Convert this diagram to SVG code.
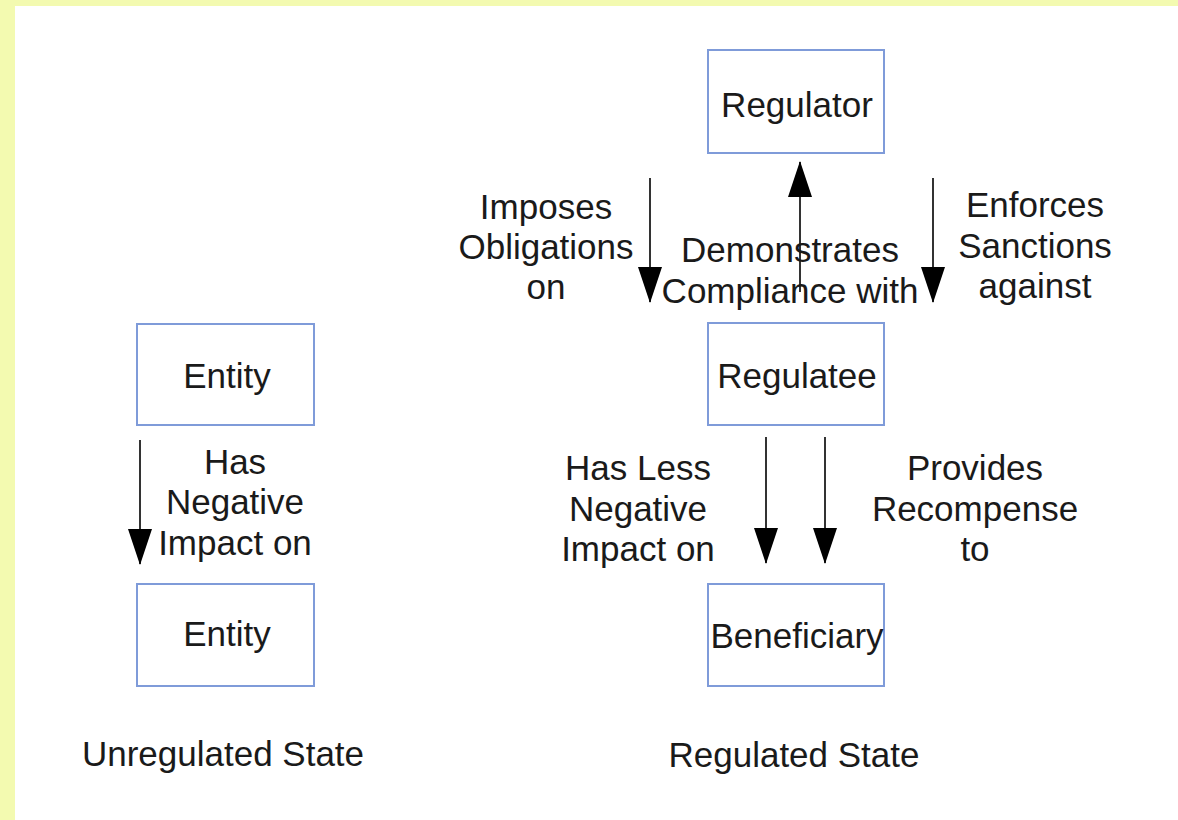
<svg xmlns="http://www.w3.org/2000/svg" width="1178" height="820" viewBox="0 0 1178 820">
<style>
.node rect{fill:#ffffff;stroke:#7f9bd9;stroke-width:2}
text{font-family:"Liberation Sans",Arial,sans-serif;font-size:35px;fill:#1a1a1a;text-anchor:middle}
.conn line{stroke:#333333;stroke-width:2;marker-end:url(#head)}
</style>
<defs>
<marker id="head" viewBox="0 0 36 24" refX="35" refY="12" markerWidth="36" markerHeight="24" markerUnits="userSpaceOnUse" orient="auto">
<path d="M0,0 L36,12 L0,24 Z" fill="#000000"/>
</marker>
</defs>
<rect x="0" y="0" width="1178" height="820" fill="#f3fab0"/>
<rect x="15" y="6" width="1163" height="814" fill="#ffffff"/>

<g id="regulator" class="node"><rect x="708" y="50" width="176" height="103"/><text x="797" y="117">Regulator</text></g>
<g id="regulatee" class="node"><rect x="708" y="323" width="176" height="102"/><text x="797" y="388">Regulatee</text></g>
<g id="beneficiary" class="node"><rect x="708" y="584" width="176" height="102"/><text x="797" y="648">Beneficiary</text></g>
<g id="entity1" class="node"><rect x="137" y="324" width="177" height="101"/><text x="227" y="388">Entity</text></g>
<g id="entity2" class="node"><rect x="137" y="584" width="177" height="102"/><text x="227" y="646">Entity</text></g>

<g id="connectors" class="conn">
<line x1="140" y1="440" x2="140" y2="564"/>
<line x1="650" y1="178" x2="650" y2="302"/>
<line x1="800" y1="292" x2="800" y2="162"/>
<line x1="933" y1="178" x2="933" y2="302"/>
<line x1="766" y1="437" x2="766" y2="563"/>
<line x1="825" y1="437" x2="825" y2="563"/>
</g>

<g id="labels">
<text x="235" y="474">Has</text>
<text x="235" y="514">Negative</text>
<text x="235" y="555">Impact on</text>

<text x="546" y="219">Imposes</text>
<text x="546" y="259">Obligations</text>
<text x="546" y="299">on</text>

<text x="790" y="262">Demonstrates</text>
<text x="790" y="303">Compliance with</text>

<text x="1035" y="217">Enforces</text>
<text x="1035" y="258">Sanctions</text>
<text x="1035" y="298">against</text>

<text x="638" y="480">Has Less</text>
<text x="638" y="521">Negative</text>
<text x="638" y="561">Impact on</text>

<text x="975" y="480">Provides</text>
<text x="975" y="521">Recompense</text>
<text x="975" y="561">to</text>

<text x="223" y="766">Unregulated State</text>
<text x="794" y="767">Regulated State</text>
</g>
</svg>
